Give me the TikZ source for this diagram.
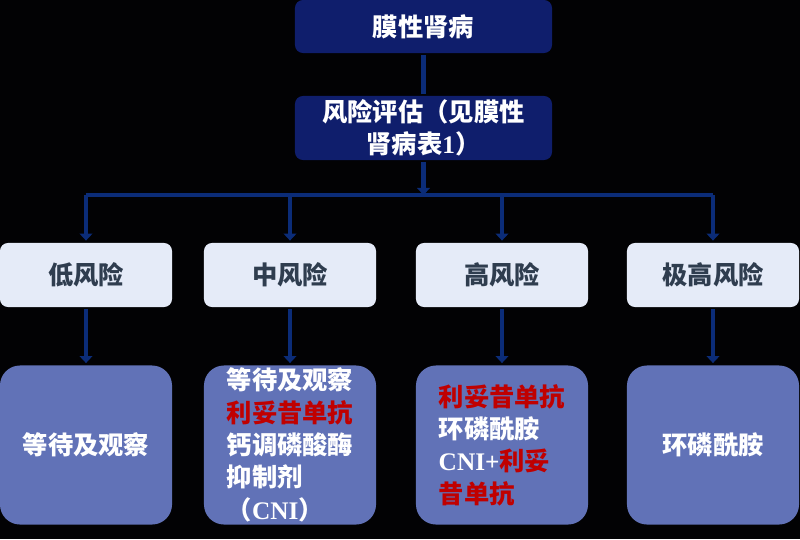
\documentclass[tikz,border=0pt]{standalone}
\usepackage{fontspec}
\usetikzlibrary{arrows.meta}
\setmainfont{Noto Sans CJK SC}
\newfontfamily\latinserif{Liberation Serif}
\definecolor{navy}{HTML}{0F1E6C}
\definecolor{linkblue}{HTML}{0B2C78}
\definecolor{pale}{HTML}{E5EBF8}
\definecolor{slate}{HTML}{2F3D4F}
\definecolor{violet}{HTML}{6172B7}
\definecolor{drugred}{HTML}{C00000}
\tikzset{
  topbox/.style={fill=navy,text=white,rounded corners=0.2cm,minimum width=6.425cm,inner sep=0pt,align=center},
  riskbox/.style={fill=pale,text=slate,rounded corners=0.2cm,minimum width=4.3cm,minimum height=1.6cm,inner sep=0pt},
  carebox/.style={fill=violet,text=white,rounded corners=0.5cm,minimum width=4.3cm,minimum height=3.975cm,inner sep=0pt,align=left},
}
\begin{document}
\begin{tikzpicture}[x=0.025cm,y=-0.025cm,font=\fontsize{18pt}{23pt}\selectfont\bfseries,
    >={Triangle[width=9pt,length=5pt]},line width=3.4pt]
        \fill[black!98!violet] (0,0) rectangle (800,539);
        \useasboundingbox (0,0) rectangle (800,539);
        \draw
            (423.5, 26.5) node[topbox,minimum height=1.325cm] (mn){膜性肾病}
            (423.5, 128) node[topbox,minimum height=1.6cm] (risk){风险评估（见膜性\\肾病表{\latinserif 1}）}
            (86, 275) node[riskbox] (low){低风险}
            (290, 275) node[riskbox] (mid){中风险}
            (502, 275) node[riskbox] (high){高风险}
            (713, 275) node[riskbox] (vhigh){极高风险}
            (86, 445) node[carebox] (t1){等待及观察}
            (290, 445) node[carebox] (t2){等待及观察\\\textcolor{drugred}{利妥昔单抗}\\钙调磷酸酶\\抑制剂\\（{\latinserif CNI}）}
            (502, 445) node[carebox] (t3){\textcolor{drugred}{利妥昔单抗}\\环磷酰胺\\{\latinserif CNI+}\textcolor{drugred}{利妥}\\\textcolor{drugred}{昔单抗}}
            (713, 445) node[carebox] (t4){环磷酰胺};
        \coordinate (bus) at (423.5, 195);
        \draw[linkblue] (mn) -- (risk);
        \draw[linkblue] (low.north |- bus) -- (vhigh.north |- bus);
        \begin{scope}[->,linkblue]
            \draw (risk) -- (bus);
            \draw (low.north |- bus) -- (low);
            \draw (mid.north |- bus) -- (mid);
            \draw (high.north |- bus) -- (high);
            \draw (vhigh.north |- bus) -- (vhigh);
            \draw (low) -- (t1);
            \draw (mid) -- (t2);
            \draw (high) -- (t3);
            \draw (vhigh) -- (t4);
        \end{scope}
        \end{tikzpicture}
\end{document}
